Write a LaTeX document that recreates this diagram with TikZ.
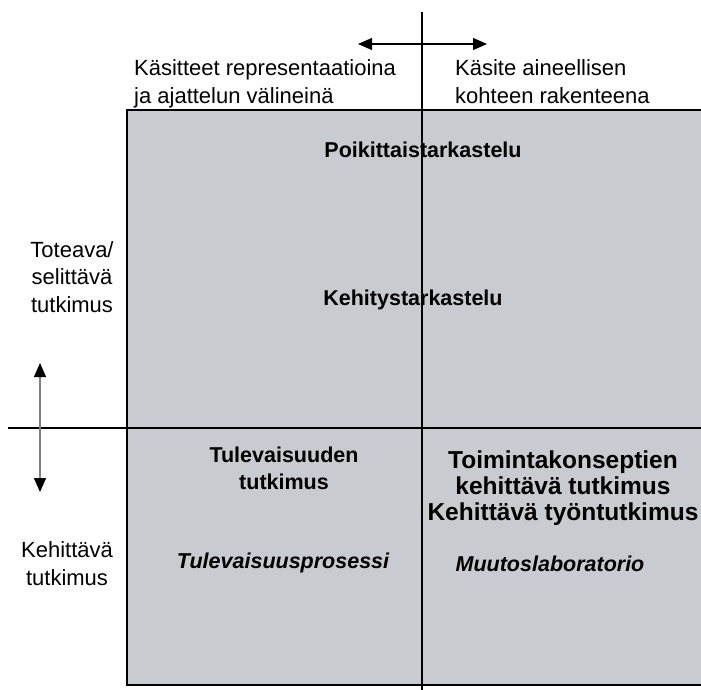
\documentclass[tikz,border=0pt]{standalone}
\usepackage{fontspec}
\setmainfont{Liberation Sans}
\usetikzlibrary{arrows.meta}
\definecolor{panelgray}{RGB}{200,203,208}
\definecolor{axisgray}{RGB}{128,128,128}
\begin{document}
\begin{tikzpicture}[x=1pt,y=-1pt,
  lbl/.style={inner sep=0pt, font=\fontsize{22}{27.5}\selectfont},
  bold/.style={lbl, font=\fontsize{21.5}{26.5}\selectfont\bfseries, align=center},
  dbl/.style={{Triangle[length=14pt,width=12pt,black]}-{Triangle[length=14pt,width=12pt,black]}}]
\useasboundingbox (0,0) rectangle (701,689);

% shaded field with its frame
\fill[panelgray] (127,110) rectangle (710,685);
\draw[line width=1.3pt] (710,110) -- (127,110) -- (127,685) -- (710,685);

% the two axes
\coordinate (vtop) at (422,12);
\coordinate (vbot) at (422,695);
\coordinate (hleft) at (8,428);
\coordinate (hright) at (710,428);
\draw[line width=1.1pt] (vtop) -- (vbot);
\draw[line width=1.1pt] (hleft) -- (hright);

% direction arrows
\coordinate (aL) at (358,44);
\coordinate (aR) at (487,44);
\draw[dbl, line width=1.1pt] (aL) -- (aR);
\coordinate (aU) at (40,363);
\coordinate (aD) at (40,492);
\draw[dbl, draw=axisgray, line width=1.4pt] (aU) -- (aD);

% column headings (anchored at the baseline of the last line)
\node[lbl, anchor=base west, align=left] (colL) at (134,103)
  {Käsitteet representaatioina\\ja ajattelun välineinä};
\node[lbl, anchor=base west, align=left] (colR) at (455,103)
  {Käsite aineellisen\\kohteen rakenteena};

% row headings
\node[lbl, anchor=base, align=center] (rowT) at (72,312)
  {Toteava/\\selittävä\\tutkimus};
\node[lbl, anchor=base, align=center] (rowK) at (67,585)
  {Kehittävä\\tutkimus};

% upper half
\node[bold, anchor=base] (poik) at (423,157) {Poikittaistarkastelu};
\node[bold, anchor=base] (kehs) at (413,305) {Kehitystarkastelu};

% lower left
\node[bold, anchor=base] (tule) at (284,489) {Tulevaisuuden\\tutkimus};
\node[bold, anchor=base, font=\fontsize{21.5}{26.5}\selectfont\bfseries\itshape] (tpro) at (283,568) {Tulevaisuusprosessi};

% lower right
\node[bold, anchor=base, font=\fontsize{24.5}{26}\selectfont\bfseries] (toim) at (563,520) {Toimintakonseptien\\kehittävä tutkimus\\Kehittävä työntutkimus};
\node[bold, anchor=base, font=\fontsize{21.5}{26.5}\selectfont\bfseries\itshape] (muut) at (550,571) {Muutoslaboratorio};
\end{tikzpicture}
\end{document}
